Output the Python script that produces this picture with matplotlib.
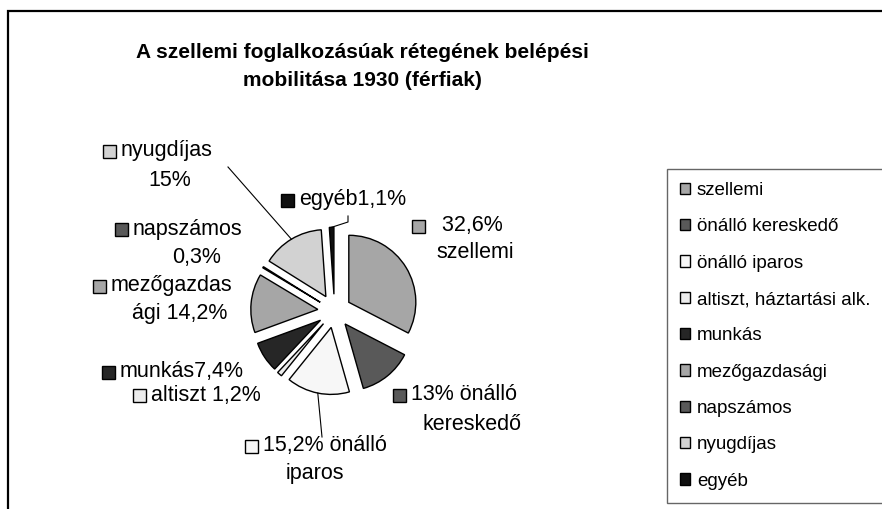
import matplotlib.pyplot as plt
from matplotlib.patches import Rectangle
import numpy as np

plt.rcParams['font.family'] = ['Liberation Sans', 'DejaVu Sans']

W, H = 882, 509

categories = ['szellemi', 'önálló kereskedő', 'önálló iparos',
              'altiszt, háztartási alk.', 'munkás', 'mezőgazdasági',
              'napszámos', 'nyugdíjas', 'egyéb']
shares = [32.6, 13.0, 15.2, 1.2, 7.4, 14.2, 0.3, 15.0, 1.1]
label_line1 = ['  32,6%', '13% önálló', '15,2% önálló', 'altiszt 1,2%',
               'munkás7,4%', 'mezőgazdas', 'napszámos', 'nyugdíjas', 'egyéb1,1%']
label_line2 = ['szellemi', 'kereskedő', 'iparos', None,
               None, 'ági 14,2%', '0,3%', '15%', None]
colors = ['#a6a6a6', '#595959', '#f7f7f7', '#ececec', '#262626',
          '#a6a6a6', '#595959', '#d2d2d2', '#101010']

# label layout in pixels: marker left x, line1 y, line2 centre x, line2 y
label_pos = [(412, 226, 475, 253), (393, 395, 472, 425), (245, 446, 315, 473),
             (133, 395, None, None), (102, 372, None, None), (93, 286, 180, 313),
             (115, 229, 197, 257), (103, 151, 170, 180), (281, 200, None, None)]
# leader lines: slice index -> path to label (px)
leaders = {7: [(228, 167)], 8: [(348, 222), (348, 216)], 2: [(322, 437)]}

def fx(px):
    return px / W

def fy(py):
    return 1 - py / H

fig = plt.figure(figsize=(W / 100, H / 100), dpi=100)

# chart area frame (cut off at right and bottom)
fig.add_artist(Rectangle((fx(8), -0.1), 1.2, fy(11) + 0.1, transform=fig.transFigure,
                         fill=False, edgecolor='black', lw=1.6))

# pie axes: centre at (334.5, 311) px, radius 67 px
cx, cy, r_px = 334.5, 311, 67
half = 150
ax = fig.add_axes([fx(cx - half), fy(cy + half), 2 * half / W, 2 * half / H])

explode = 0.25
wedges, _ = ax.pie(shares, colors=colors, startangle=90, counterclock=False,
                   explode=[explode] * len(shares),
                   wedgeprops=dict(edgecolor='black', linewidth=1.0))
lim = half / r_px
ax.set_xlim(-lim, lim)
ax.set_ylim(-lim, lim)
ax.set_aspect('equal')
ax.axis('off')

fs = 15.5
for i, (mx, y1, x2, y2) in enumerate(label_pos):
    fig.add_artist(Rectangle((fx(mx), fy(y1 + 7)), 13 / W, 13 / H,
                             transform=fig.transFigure, facecolor=colors[i],
                             edgecolor='black', lw=1.0))
    fig.text(fx(mx + 18), fy(y1), label_line1[i], fontsize=fs,
             ha='left', va='center')
    if label_line2[i]:
        fig.text(fx(x2), fy(y2), label_line2[i], fontsize=fs,
                 ha='center', va='center')

# leader lines from the outer edge of the slice to its label
for i, path in leaders.items():
    wdg = wedges[i]
    ang = np.deg2rad((wdg.theta1 + wdg.theta2) / 2)
    px = wdg.center[0] + wdg.r * np.cos(ang)
    py = wdg.center[1] + wdg.r * np.sin(ang)
    start = ax.transData.transform((px, py))
    xs = [start[0]] + [p[0] for p in path]
    ys = [start[1]] + [H - p[1] for p in path]
    fig.add_artist(plt.Line2D(xs, ys, transform=None, color='black', lw=0.8))

fig.text(fx(362), fy(67),
         'A szellemi foglalkozásúak rétegének belépési\nmobilitása 1930 (férfiak)',
         fontsize=15, fontweight='bold', ha='center', va='center',
         linespacing=1.6)

leg = fig.legend(wedges, categories, loc='upper left',
                 bbox_to_anchor=(fx(667), fy(501), 0.4, fy(169) - fy(501)),
                 mode='expand', fontsize=13.5, frameon=True, fancybox=False,
                 handlelength=0.55, handleheight=0.55, handletextpad=0.35,
                 labelspacing=1.03, borderpad=0.7, borderaxespad=0)
leg.get_frame().set_edgecolor('#404040')
leg.get_frame().set_linewidth(1.0)

fig.savefig('out.png', dpi=100)
